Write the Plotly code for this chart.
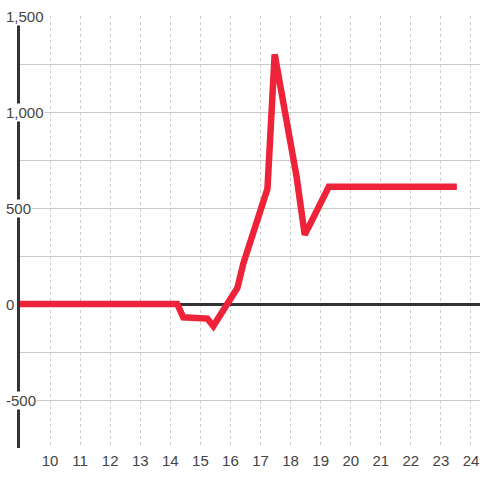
import plotly.graph_objects as go

# series
days = [9, 14.23, 14.43, 15.23, 15.43, 16.23, 16.43, 17.23, 17.47, 18.2, 18.47, 19.27, 23.53]
values = [0, 0, -69, -76, -115, 83, 212, 600, 1300, 663, 360, 611, 611]

x_ticks = list(range(10, 25))
y_label_vals = [-500, 0, 500, 1000, 1500]

fig = go.Figure()
fig.add_trace(go.Scatter(x=days, y=values, mode='lines',
                         line=dict(color='#ee2238', width=6.5),
                         showlegend=False))

for v in y_label_vals:
    fig.add_annotation(x=0, xref='paper', y=v, yref='y', xshift=-15,
                       xanchor='left', yanchor='middle', text=f"{v:,}",
                       showarrow=False, bgcolor='white', borderpad=0,
                       font=dict(family='Liberation Sans, Arial', size=15, color='#444'))

fig.update_layout(
    width=480, height=480,
    margin=dict(l=20, r=0, t=16, b=32),
    plot_bgcolor='white', paper_bgcolor='white',
    font=dict(family='Liberation Sans, Arial', size=15, color='#444'),
)
fig.update_xaxes(range=[9, 24.3], tickvals=x_ticks, showgrid=True,
                 gridcolor='#cccccc', griddash='3px,3px', gridwidth=1,
                 zeroline=False, showline=False, ticks='', ticklabelstandoff=2)
fig.update_yaxes(range=[-750, 1500], tick0=0, dtick=250, showticklabels=False,
                 showgrid=True, gridcolor='#cccccc', gridwidth=1,
                 zeroline=True, zerolinecolor='#333333', zerolinewidth=3,
                 showline=True, linecolor='#333333', linewidth=3, ticks='')

# page body has a default 8px margin; drop it so the figure fills the window
fig.write_html("out.html", config={'displayModeBar': False},
               post_script="document.body.style.margin='0';")
